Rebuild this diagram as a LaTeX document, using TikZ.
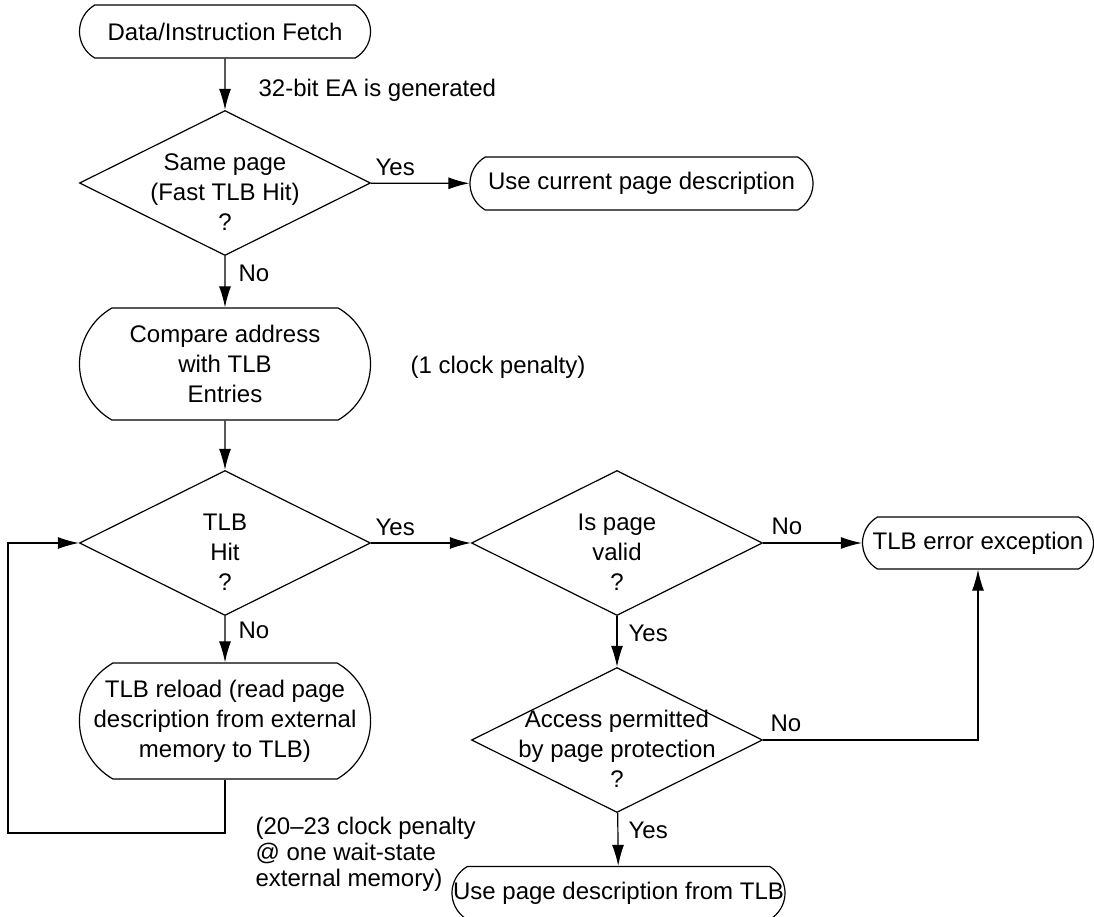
\documentclass[tikz,border=0pt]{standalone}
\usepackage{fontspec}
\setmainfont{Liberation Sans}
\usetikzlibrary{shapes.geometric,shapes.misc,arrows.meta}

\begin{document}
\begin{tikzpicture}[x=0.5pt,y=-0.5pt,line width=0.6pt,>={Latex[length=10.5pt,width=6pt]},
	every node/.style={font=\fontsize{12}{15}\selectfont},
	term/.style={rounded rectangle, rounded rectangle arc length=120, draw, inner sep=0pt, minimum height=26.5pt},
	decision/.style={diamond, draw, inner sep=0pt, minimum width=145.5pt, minimum height=72.5pt},
	qtext/.style={align=center, inner sep=0pt, yshift=-4.5pt},
	note/.style={anchor=west, inner sep=0pt}]
	\useasboundingbox (0,0) rectangle (1094,917);
	\node (fetch)	at (225, 31.5)	[term, minimum width=145.5pt]	{Data/Instruction Fetch};
	\node (same)	at (225,183)	[decision]	{};
	\node (sametxt)	at (same)	[qtext]	{Same page\\(Fast TLB Hit)\\?};
	\node (cur)	at (641.5,183.5)	[term, minimum width=171.5pt]	{Use current page description};
	\node (cmp)	at (225,364)	[term, minimum width=145.5pt, minimum height=56pt, align=center]	{Compare address\\with TLB\\Entries};
	\node (hit)	at (225,543)	[decision]	{};
	\node (hittxt)	at (hit)	[qtext]	{TLB\\Hit\\?};
	\node (valid)	at (617,543)	[decision]	{};
	\node (validtxt)	at (valid)	[qtext]	{Is page\\valid\\?};
	\node (err)	at (978,543)	[term, minimum width=115.5pt, minimum height=26pt]	{TLB error exception};
	\node (reload)	at (225,721)	[term, minimum width=145.5pt, minimum height=58pt, align=center]	{TLB reload (read page\\description from external\\memory to TLB)};
	\node (acc)	at (617,740)	[decision]	{};
	\node (acctxt)	at (acc)	[qtext]	{Access permitted\\by page protection\\?};
	\node (use)	at (618.5,893)	[term, minimum width=166.5pt]	{\makebox[151pt]{Use page description from TLB}};
	\node (ea)	at (258, 90)	[note]	{32-bit EA is generated};
	\node (pen1)	at (410,367)	[note]	{(1 clock penalty)};
	\node (pen2)	at (255,854)	[note, align=left, font=\fontsize{12}{13}\selectfont]	{(20–23 clock penalty\\@ one wait-state\\external memory)};
	\node (yes1)	at (375,167)	[note]	{Yes};
	\node (no1)	at (238,273)	[note]	{No};
	\node (yes2)	at (375,527)	[note]	{Yes};
	\node (no2)	at (238,630)	[note]	{No};
	\node (no3)	at (771,526)	[note]	{No};
	\node (yes3)	at (628,633)	[note]	{Yes};
	\node (no4)	at (770,723)	[note]	{No};
	\node (yes4)	at (628,830)	[note]	{Yes};
	\coordinate (loop) at (8,833);
	\draw[->] (fetch) -- (same);
	\draw[->] (same) -- (cur);
	\draw[->] (same) -- (cmp);
	\draw[->] (cmp) -- (hit);
	\draw[->] (hit) -- (valid);
	\draw[->] (hit) -- (reload);
	\draw[->] (reload.south) |- (loop) |- (hit.west);
	\draw[->] (valid) -- (err);
	\draw[->] (valid) -- (acc);
	\draw[->] (acc.east) -| (err.south);
	\draw[->] (acc) -- (use);
\end{tikzpicture}
\end{document}
